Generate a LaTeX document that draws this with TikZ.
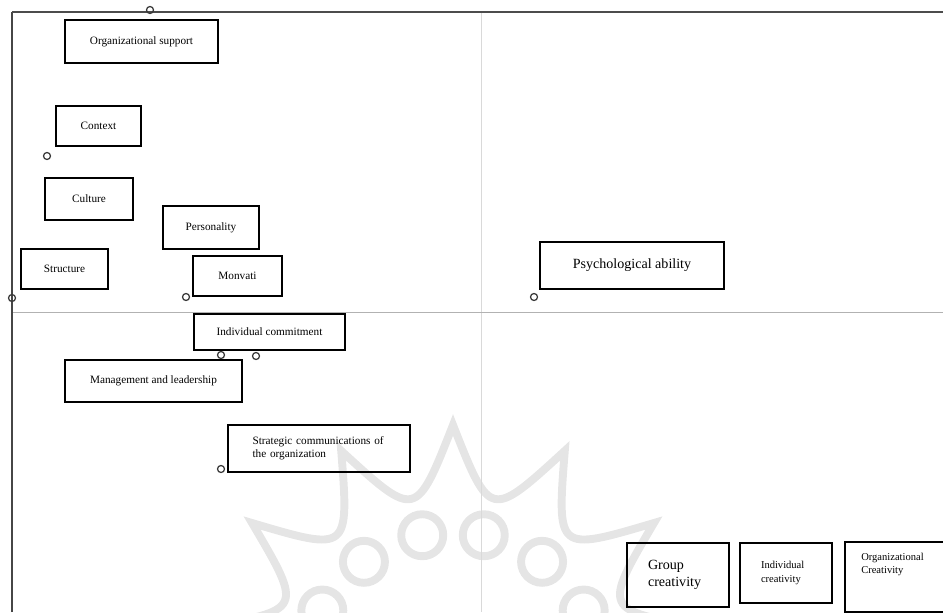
\documentclass[tikz,border=0pt]{standalone}
\usepackage{fontspec}
\setmainfont{Liberation Serif}
\newcommand{\boxfont}{\fontsize{6.4}{7.4}\selectfont}
\newcommand{\bigboxfont}{\fontsize{8}{9.6}\selectfont}
\newcommand{\smallboxfont}{\fontsize{6}{7.8}\selectfont}

\begin{document}
\begin{tikzpicture}[x=0.02cm,y=-0.02cm,
  box/.style={draw,line width=1.1pt,inner sep=2pt,font=\boxfont},
  anchormark/.style={circle,draw=gray!45!black,line width=0.7pt,inner sep=0pt,minimum size=4pt},
  watermark/.style={draw=gray!20,line width=4.5pt}]
  \useasboundingbox (0,0) rectangle (943,612);
  % faint rosette behind the lower quadrants
  \begin{scope}
    \clip (0,0) rectangle (943,612);
    \begin{scope}[shift={(453,680)},yscale=-1]
      \draw[watermark] (-14:255) .. controls (-1:165) .. (12:255) .. controls (25:165) .. (38:255)
        .. controls (51:165) .. (64:255) .. controls (77:165) .. (90:255)
        .. controls (103:165) .. (116:255) .. controls (129:165) .. (142:255)
        .. controls (155:165) .. (168:255) .. controls (181:165) .. (194:255);
      \draw[watermark] (78:148) circle (0.42cm);
      \draw[watermark] (102:148) circle (0.42cm);
      \draw[watermark] (53:148) circle (0.42cm);
      \draw[watermark] (127:148) circle (0.42cm);
      \draw[watermark] (28:148) circle (0.42cm);
      \draw[watermark] (152:148) circle (0.42cm);
    \end{scope}
  \end{scope}
  % quadrant frame
  \draw[gray!30,line width=0.5pt] (481,12) -- (481,612);
  \draw[gray!60,line width=0.5pt] (12,312) -- (943,312);
  \draw[gray!55!black,line width=0.6pt] (12,612) -- (12,12);
  \draw[gray!60!black,line width=1pt] (12,12) -- (943,12);
  % upper left
  \node[box,minimum width=3.06cm,minimum height=0.86cm] (orgsupport) at (141.5,41.5) {Organizational support};
  \node[box,minimum width=1.70cm,minimum height=0.80cm] (context) at (98.5,126) {Context};
  \node[box,minimum width=1.76cm,minimum height=0.84cm] (culture) at (89,199) {Culture};
  \node[box,minimum width=1.92cm,minimum height=0.86cm] (personality) at (211,227.5) {Personality};
  \node[box,minimum width=1.74cm,minimum height=0.80cm] (structure) at (64.5,269) {Structure};
  \node[box,minimum width=1.78cm,minimum height=0.80cm] (monvati) at (237.5,276) {Monvati};
  % upper right
  \node[box,font=\bigboxfont,minimum width=3.68cm,minimum height=0.94cm] (psych) at (632,265.5) {Psychological ability};
  % lower left
  \node[box,minimum width=3.02cm,minimum height=0.72cm] (commitment) at (269.5,332) {Individual commitment};
  \node[box,minimum width=3.54cm,minimum height=0.84cm] (management) at (153.5,381) {Management and leadership};
  \node[box,text width=2.66cm,align=left,minimum width=3.64cm,minimum height=0.94cm] (strategic) at (319,448.5)
    {Strategic communications of\\the organization};
  % lower right
  \node[box,font=\bigboxfont,text width=1.2cm,align=left,minimum width=2.04cm,minimum height=1.28cm] (groupcr) at (678,575) {Group\\creativity};
  \node[box,font=\smallboxfont,text width=1.0cm,align=left,minimum width=1.84cm,minimum height=1.20cm] (indivcr) at (786,573) {Individual\\creativity};
  \node[box,font=\smallboxfont,text width=1.45cm,align=left,minimum width=2.10cm,minimum height=1.40cm] (orgcr) at (897.5,577) {Organizational\\Creativity\\\mbox{}\\\mbox{}};
  % anchors
  \node[anchormark] (m1) at (150,10) {};
  \node[anchormark] (m2) at (47,156) {};
  \node[anchormark] (m3) at (12,298) {};
  \node[anchormark] (m4) at (186,297) {};
  \node[anchormark] (m5) at (534,297) {};
  \node[anchormark] (m6) at (221,355) {};
  \node[anchormark] (m7) at (256,356) {};
  \node[anchormark] (m8) at (221,469) {};
\end{tikzpicture}
\end{document}
